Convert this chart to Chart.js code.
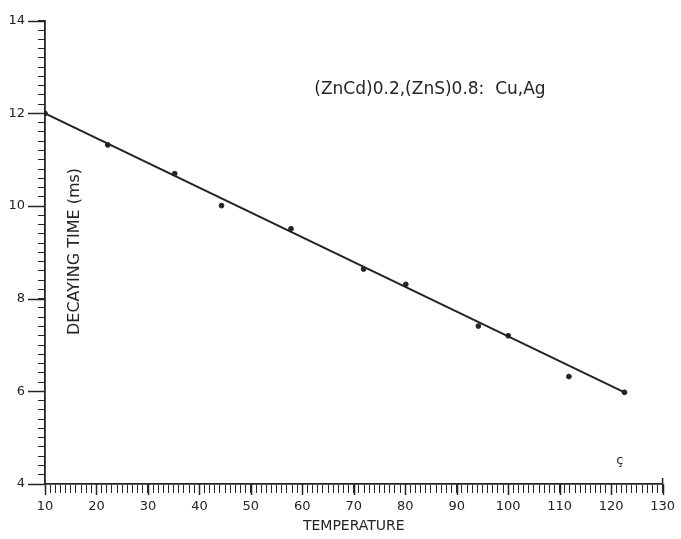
<!DOCTYPE html>
<html>
<head>
<meta charset="utf-8">
<script src="https://cdn.jsdelivr.net/npm/chart.js@4.4.1/dist/chart.umd.min.js"></script>
<style>
  html, body { margin: 0; padding: 0; background: #fff; }
  #wrap { width: 681px; height: 539px; }
</style>
</head>
<body>
<div id="wrap"><canvas id="chart"></canvas></div>
<script>
// measured points (temperature, decaying time in ms)
const temps = [10, 22.2, 35.2, 44.3, 57.8, 71.9, 80.1, 94.2, 100.0, 111.8, 122.6];
const decay = [12.0, 11.32, 10.70, 10.01, 9.51, 8.64, 8.31, 7.41, 7.20, 6.32, 5.98];
// fitted line ends
const fitX = [10, 122.6];
const fitY = [12.0, 5.98];

const xMin = 10, xMax = 130;
const yMin = 4, yMax = 14;

const ink = "#242424";
const font = "'DejaVu Sans', sans-serif";

const extras = {
  id: "extras",
  afterDraw(chart) {
    const ctx = chart.ctx;
    const x = chart.scales.x, y = chart.scales.y;
    ctx.save();
    ctx.strokeStyle = ink;
    ctx.lineWidth = 1.5;
    // longer major ticks on y, joining label to axis
    for (let v = yMin; v <= yMax; v += 2) {
      const py = Math.round(y.getPixelForValue(v)) + 0.5;
      ctx.beginPath();
      ctx.moveTo(x.left - 17, py);
      ctx.lineTo(x.left, py);
      ctx.stroke();
    }
    // major x ticks a bit longer
    for (let v = xMin; v <= xMax; v += 10) {
      const px = Math.round(x.getPixelForValue(v)) + 0.5;
      ctx.beginPath();
      ctx.moveTo(px, y.bottom);
      ctx.lineTo(px, y.bottom + 11);
      ctx.stroke();
    }
    // small upward tick closing the x axis
    ctx.beginPath();
    ctx.moveTo(x.right, y.bottom);
    ctx.lineTo(x.right, y.bottom - 6);
    ctx.stroke();

    ctx.fillStyle = ink;
    ctx.textAlign = "center";
    ctx.textBaseline = "middle";
    ctx.font = "17px " + font;
    ctx.fillText("(ZnCd)0.2,(ZnS)0.8:  Cu,Ag", x.getPixelForValue(84.8), y.getPixelForValue(12.52));

    ctx.font = "13px " + font;
    ctx.fillText("ç", x.getPixelForValue(121.7), y.getPixelForValue(4.51));

    ctx.save();
    ctx.translate(x.getPixelForValue(15.8), y.getPixelForValue(9.02));
    ctx.rotate(-Math.PI / 2);
    ctx.font = "16px " + font;
    ctx.fillText("DECAYING TIME (ms)", 0, 0);
    ctx.restore();
    ctx.restore();
  }
};

new Chart(document.getElementById("chart"), {
  data: {
    datasets: [
      {
        type: "line",
        data: fitX.map((v, i) => ({ x: v, y: fitY[i] })),
        borderColor: ink,
        borderWidth: 2,
        pointRadius: 0,
        fill: false,
      },
      {
        type: "scatter",
        data: temps.map((v, i) => ({ x: v, y: decay[i] })),
        backgroundColor: ink,
        borderColor: ink,
        pointRadius: 2.4,
      },
    ],
  },
  options: {
    responsive: true,
    maintainAspectRatio: false,
    animation: false,
    layout: { padding: { top: 18, right: 16, left: 0, bottom: 0 } },
    plugins: { legend: { display: false }, tooltip: { enabled: false } },
    scales: {
      x: {
        type: "linear",
        min: xMin,
        max: xMax,
        afterFit: (s) => { s.height = 55; },
        border: { display: true, color: ink, width: 1.8 },
        grid: { drawOnChartArea: false, drawTicks: true, tickLength: 9, color: ink, tickWidth: 1 },
        ticks: {
          stepSize: 1,
          autoSkip: false,
          maxRotation: 0,
          padding: 6,
          color: ink,
          font: { family: font, size: 13 },
          callback: (v) => (v % 10 === 0 ? String(v) : ""),
        },
        title: {
          display: true,
          text: "TEMPERATURE",
          color: ink,
          font: { family: font, size: 14 },
          padding: { top: 0, bottom: 4 },
        },
      },
      y: {
        type: "linear",
        min: yMin,
        max: yMax,
        afterFit: (s) => { s.width = 45; },
        border: { display: true, color: ink, width: 1.8 },
        grid: { drawOnChartArea: false, drawTicks: true, tickLength: 7, color: ink, tickWidth: 1 },
        ticks: {
          stepSize: 0.2,
          autoSkip: false,
          padding: 13,
          color: ink,
          font: { family: font, size: 13 },
          callback: (v) => {
            const r = Math.round(v);
            return Math.abs(v - r) < 1e-6 && r % 2 === 0 ? String(r) : "";
          },
        },
      },
    },
  },
  plugins: [extras],
});
</script>
</body>
</html>
